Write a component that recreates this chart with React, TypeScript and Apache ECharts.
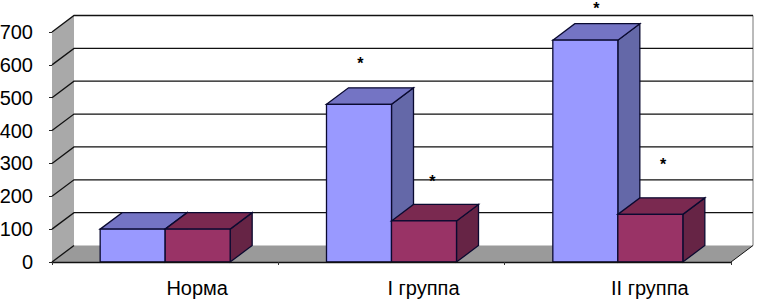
import React, { useEffect, useRef } from "react";
import * as echarts from "echarts";

const categories = ["Норма", "I группа", "II группа"];
const seriesA = [100, 480, 675];
const seriesB = [100, 125, 145];
const ticks = [0, 100, 200, 300, 400, 500, 600, 700];
// asterisks: [category position, value level]
const starsX = [0.862, 1.18, 1.905, 2.2];
const starsY = [630, 268, 797, 320];

const DX = 22;
const DY = -16.5;
const LINE = "#0a0a30";

function barRenderer(side: number, front: string, top: string, right: string) {
  return (_p: any, api: any) => {
    const cat = api.value(0);
    const [cx, y1] = api.coord([cat, api.value(1)]);
    const [, y0] = api.coord([cat, 0]);
    const band = api.size([1, 0])[0];
    const w = band * 0.2872;
    const x0 = side < 0 ? cx - w : cx;
    const x1 = x0 + w;
    const style = (fill: string) => ({ fill, stroke: LINE, lineWidth: 1.3 });
    return {
      type: "group",
      children: [
        {
          type: "polygon",
          shape: { points: [[x1, y1], [x1 + DX, y1 + DY], [x1 + DX, y0 + DY], [x1, y0]] },
          style: style(right),
        },
        {
          type: "polygon",
          shape: { points: [[x0, y1], [x0 + DX, y1 + DY], [x1 + DX, y1 + DY], [x1, y1]] },
          style: style(top),
        },
        {
          type: "rect",
          shape: { x: x0, y: y1, width: x1 - x0, height: y0 - y1 },
          style: style(front),
        },
      ],
    };
  };
}

function wallRenderer(p: any, api: any) {
  const cs = p.coordSys;
  const v = api.value(0);
  const left = cs.x;
  const right = cs.x + cs.width;
  const y = api.coord([0, v])[1];
  const yZero = api.coord([0, 0])[1];
  const yTop = api.coord([0, ticks[ticks.length - 1]])[1];
  const children: any[] = [];
  if (p.dataIndex === 0) {
    children.push(
      {
        type: "polygon",
        shape: { points: [[left, yZero], [left + DX, yZero + DY], [left + DX, yTop + DY], [left, yTop]] },
        style: { fill: "#a9a9a9", stroke: "none" },
      },
      {
        type: "polygon",
        shape: { points: [[left, yZero], [left + DX, yZero + DY], [right + DX, yZero + DY], [right, yZero]] },
        style: { fill: "#9a9a9a", stroke: "none" },
      },
      {
        type: "line",
        shape: { x1: right + DX, y1: yTop + DY, x2: right + DX, y2: yZero + DY },
        style: { stroke: "#777", lineWidth: 1 },
      },
      {
        type: "line",
        shape: { x1: right, y1: yZero, x2: right + DX, y2: yZero + DY },
        style: { stroke: "#111", lineWidth: 1 },
      },
    );
  }
  children.push({
    type: "polyline",
    shape: {
      points:
        v === 0
          ? [[left, y], [left + DX, y + DY]]
          : [[left, y], [left + DX, y + DY], [right + DX, y + DY]],
    },
    style: { stroke: "#111", lineWidth: 1.3, fill: "none" },
  });
  return { type: "group", children };
}

function starRenderer(_p: any, api: any) {
  const [x, y] = api.coord([api.value(0), api.value(1)]);
  return {
    type: "text",
    x,
    y,
    style: {
      text: "*",
      fontFamily: "Liberation Sans",
      fontSize: 16,
      fontWeight: "bold",
      fill: "#000",
      align: "center",
      verticalAlign: "top",
    },
  };
}

export default function App() {
  const ref = useRef<HTMLDivElement>(null);
  useEffect(() => {
    const chart = echarts.init(ref.current!, undefined, { renderer: "svg" });
    chart.setOption({
      animation: false,
      backgroundColor: "#fff",
      grid: { left: 52, right: 26, top: 32, bottom: 37, outerBoundsMode: "none" },
      xAxis: [
        {
          type: "category",
          data: categories,
          axisLine: { onZero: false, lineStyle: { color: "#111", width: 1.3 } },
          axisTick: { show: true, length: 3, alignWithLabel: false, lineStyle: { color: "#333" } },
          axisLabel: {
            color: "#000",
            fontFamily: "Liberation Sans",
            fontSize: 20,
            margin: 16,
            padding: [0, 0, 0, 64],
          },
          z: 5,
        },
        { type: "value", min: -0.5, max: 2.5, show: false },
      ],
      yAxis: {
        type: "value",
        min: 0,
        max: 700,
        interval: 100,
        splitLine: { show: false },
        axisLine: { show: true, onZero: false, lineStyle: { color: "#222", width: 1 } },
        axisTick: { show: true, length: 3, lineStyle: { color: "#222" } },
        axisLabel: { color: "#000", fontFamily: "Liberation Sans", fontSize: 20, margin: 19 },
      },
      series: [
        {
          type: "custom",
          data: ticks.map((t) => [t]),
          encode: { y: 0 },
          renderItem: wallRenderer,
          clip: false,
          silent: true,
          z: 1,
        },
        {
          type: "custom",
          name: "A",
          data: seriesA.map((v, i) => [i, v]),
          encode: { x: 0, y: 1 },
          renderItem: barRenderer(-1, "#9999ff", "#7474c4", "#6468a8"),
          clip: false,
          z: 2,
        },
        {
          type: "custom",
          name: "B",
          data: seriesB.map((v, i) => [i, v]),
          encode: { x: 0, y: 1 },
          renderItem: barRenderer(1, "#993366", "#7a2950", "#662445"),
          clip: false,
          z: 3,
        },
        {
          type: "custom",
          xAxisIndex: 1,
          data: starsX.map((x, i) => [x, starsY[i]]),
          encode: { x: 0, y: 1 },
          renderItem: starRenderer,
          clip: false,
          z: 4,
        },
      ],
    });
    return () => chart.dispose();
  }, []);
  return <div ref={ref} style={{ position: "absolute", left: 0, top: 0, width: 757, height: 299 }} />;
}
